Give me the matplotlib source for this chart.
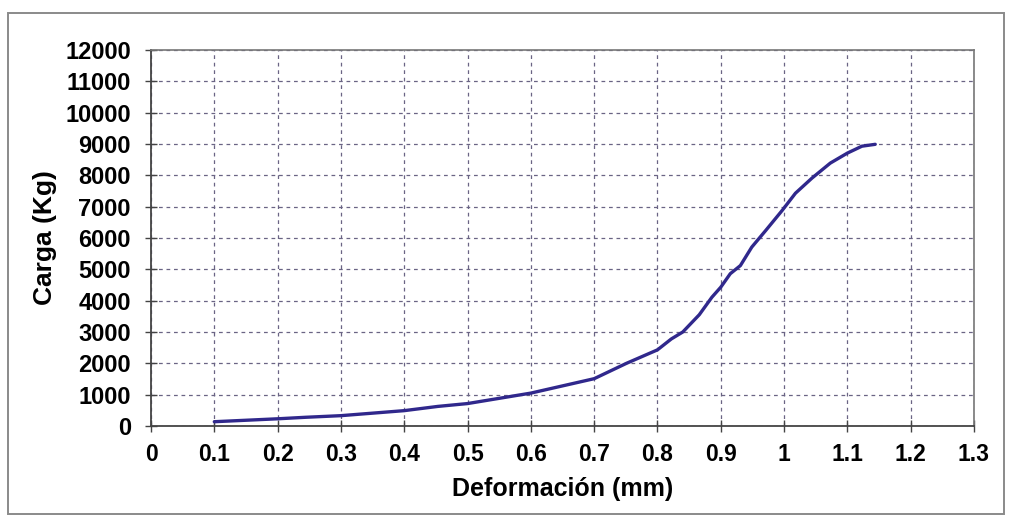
import numpy as np
import matplotlib
matplotlib.use("Agg")
import matplotlib.pyplot as plt
from matplotlib.patches import Rectangle

# data
deformacion = [0.10, 0.20, 0.244, 0.30, 0.40, 0.453, 0.50, 0.60, 0.70, 0.751,
               0.80, 0.822, 0.84, 0.866, 0.886, 0.90, 0.915, 0.931, 0.949,
               0.971, 0.997, 1.018, 1.044, 1.073, 1.10, 1.123, 1.144]
carga = [137, 230, 278, 330, 490, 625, 716, 1050, 1510, 2000,
         2430, 2780, 3000, 3550, 4110, 4430, 4860, 5120, 5710,
         6240, 6880, 7430, 7910, 8390, 8710, 8930, 8990]

xticks = np.round(np.arange(0, 1.31, 0.1), 1)
yticks = np.arange(0, 12001, 1000)

plt.rcParams['font.family'] = ['Liberation Sans', 'DejaVu Sans']

fig = plt.figure(figsize=(10.11, 5.18), dpi=100)
ax = fig.add_axes([151/1011, 1 - 426/518, (974 - 151)/1011, (426 - 50)/518])

# outer chart frame
fig.patches.append(Rectangle((8/1011, 1 - 514/518), (1004 - 8)/1011, (514 - 13)/518,
                             transform=fig.transFigure, fill=False,
                             edgecolor='#8a8a8a', linewidth=1.4))

ax.plot(deformacion, carga, color='#30288c', linewidth=2.4, solid_capstyle='round')

ax.set_xlim(0, 1.3)
ax.set_ylim(0, 12000)
ax.set_xticks(xticks)
ax.set_xticklabels(['%g' % t for t in xticks])
ax.set_yticks(yticks)
ax.set_yticklabels([str(t) for t in yticks])

ax.grid(True, color='#6a6484', linestyle=(0, (3, 3)), linewidth=0.9)
ax.set_axisbelow(True)

for s in ['left', 'bottom']:
    ax.spines[s].set_color('#444444')
    ax.spines[s].set_linewidth(1.3)
for s in ['top', 'right']:
    ax.spines[s].set_color('#777777')
    ax.spines[s].set_linewidth(1.2)

ax.tick_params(axis='y', direction='inout', length=9, width=1, color='#444444',
               pad=10, labelsize=17)
ax.tick_params(axis='x', direction='inout', length=9, width=1, color='#444444',
               pad=8, labelsize=16.5)
for lab in ax.get_xticklabels() + ax.get_yticklabels():
    lab.set_fontweight('bold')

ax.set_xlabel('Deformación (mm)', fontsize=18, fontweight='bold', labelpad=8)
ax.set_ylabel('Carga (Kg)', fontsize=19, fontweight='bold', labelpad=6)

fig.savefig('out.png', dpi=100)
